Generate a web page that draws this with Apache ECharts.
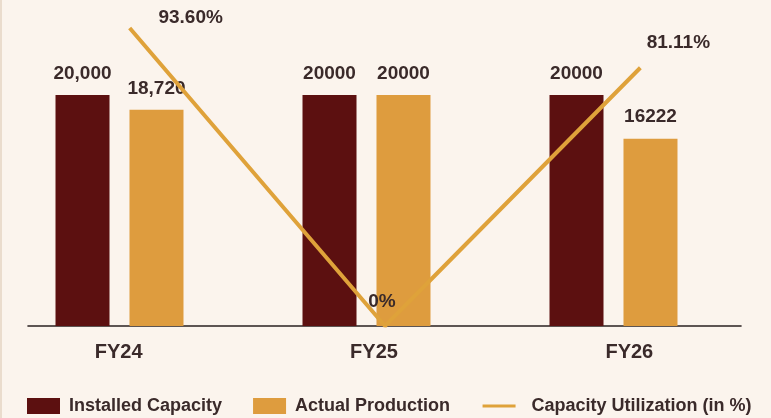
<!DOCTYPE html>
<html>
<head>
<meta charset="utf-8">
<title>Capacity vs Production</title>
<script src="https://cdn.jsdelivr.net/npm/echarts@6/dist/echarts.min.js"></script>
<style>
  html, body { margin: 0; padding: 0; background: #fbf4ed; }
  #chart { width: 771px; height: 418px; }
</style>
</head>
<body>
<div id="chart"></div>
<script>
// Fiscal years
const categories = ['FY24', 'FY25', 'FY26'];

// Installed capacity and actual production (units)
const installedCapacity = [20000, 20000, 20000];
const actualProduction = [18720, 20000, 16222];

// Value labels as printed above each bar
const installedLabels = ['20,000', '20000', '20000'];
const productionLabels = ['18,720', '20000', '16222'];

// Capacity utilisation (%)
const utilization = [93.6, 0, 81.11];
const utilizationLabels = ['93.60%', '0%', '81.11%'];

const MAROON = '#5c1010';
const ORANGE = '#de9c3e';
const LINE = '#dfa23a';
const TEXT = '#3a2a2a';
const FONT = '"Liberation Sans", Arial, sans-serif';

// label offsets for the utilisation points (style only)
const pctOffsets = [[61, -10], [-3, -24], [38, -25]];

const chart = echarts.init(document.getElementById('chart'), null, { renderer: 'canvas' });

const valueLabel = (labels) => ({
  show: true, position: 'top', distance: 12,
  fontFamily: FONT, fontSize: 19, fontWeight: 'bold', color: TEXT,
  formatter: p => labels[p.dataIndex]
});

const option = {
  backgroundColor: '#fbf4ed',
  animation: false,
  textStyle: { fontFamily: FONT },
  graphic: [{
    type: 'rect',
    shape: { x: 0, y: 0, width: 2, height: 418 },
    style: { fill: '#eadccd' },
    silent: true
  }],
  legend: {
    left: 22,
    top: 392,
    itemWidth: 33,
    itemHeight: 16,
    itemGap: 31,
    textStyle: { fontFamily: FONT, fontSize: 18, fontWeight: 'bold', color: TEXT, padding: [0, 0, 0, 4] },
    data: [
      { name: 'Installed Capacity', icon: 'rect' },
      { name: 'Actual Production', icon: 'rect' },
      {
        name: 'Capacity Utilization (in %)',
        itemStyle: { opacity: 0 },
        lineStyle: { width: 3 },
        textStyle: { padding: [0, 0, 0, 11] }
      }
    ]
  },
  grid: [
    { left: -4, right: 34, top: 95, bottom: 92, outerBoundsMode: 'none' },   // bars
    { left: 2, right: 3, top: 28, bottom: 92, outerBoundsMode: 'none' },     // utilisation line + year labels
    { left: 28, right: 30, top: 28, bottom: 92, outerBoundsMode: 'none' }    // baseline
  ],
  xAxis: [
    {
      gridIndex: 0, type: 'category', data: categories,
      axisLine: { show: false }, axisTick: { show: false }, axisLabel: { show: false }
    },
    {
      gridIndex: 1, type: 'category', data: categories,
      axisLine: { show: false }, axisTick: { show: false },
      axisLabel: {
        show: true, margin: 16, fontFamily: FONT, fontSize: 20, fontWeight: 'bold', color: TEXT,
        padding: [0, 22, 0, 0]
      }
    },
    {
      gridIndex: 2, type: 'category', data: categories,
      axisLine: { show: true, lineStyle: { color: '#2a2020', width: 1.6 } },
      axisTick: { show: false }, axisLabel: { show: false }
    }
  ],
  yAxis: [
    { gridIndex: 0, type: 'value', min: 0, max: 20000, show: false, splitLine: { show: false } },
    { gridIndex: 1, type: 'value', min: 0, max: 93.6, show: false, splitLine: { show: false } },
    { gridIndex: 2, type: 'value', min: 0, max: 1, show: false, splitLine: { show: false } }
  ],
  series: [
    {
      name: 'Installed Capacity',
      type: 'bar',
      xAxisIndex: 0, yAxisIndex: 0,
      data: installedCapacity,
      barWidth: 54,
      barGap: '37%',
      itemStyle: { color: MAROON },
      label: valueLabel(installedLabels),
      z: 2
    },
    {
      name: 'Actual Production',
      type: 'bar',
      xAxisIndex: 0, yAxisIndex: 0,
      data: actualProduction,
      barWidth: 54,
      barGap: '37%',
      itemStyle: { color: ORANGE },
      label: valueLabel(productionLabels),
      z: 2
    },
    {
      name: 'Capacity Utilization (in %)',
      type: 'line',
      xAxisIndex: 1, yAxisIndex: 1,
      data: utilization.map((v, i) => ({
        value: v,
        label: { offset: pctOffsets[i] }
      })),
      symbol: 'circle',
      symbolSize: 0,
      showSymbol: true,
      lineStyle: { color: LINE, width: 4 },
      itemStyle: { color: LINE },
      label: {
        show: true, position: 'inside',
        fontFamily: FONT, fontSize: 19, fontWeight: 'bold', color: TEXT,
        formatter: p => utilizationLabels[p.dataIndex]
      },
      z: 5
    }
  ]
};

chart.setOption(option);
</script>
</body>
</html>
